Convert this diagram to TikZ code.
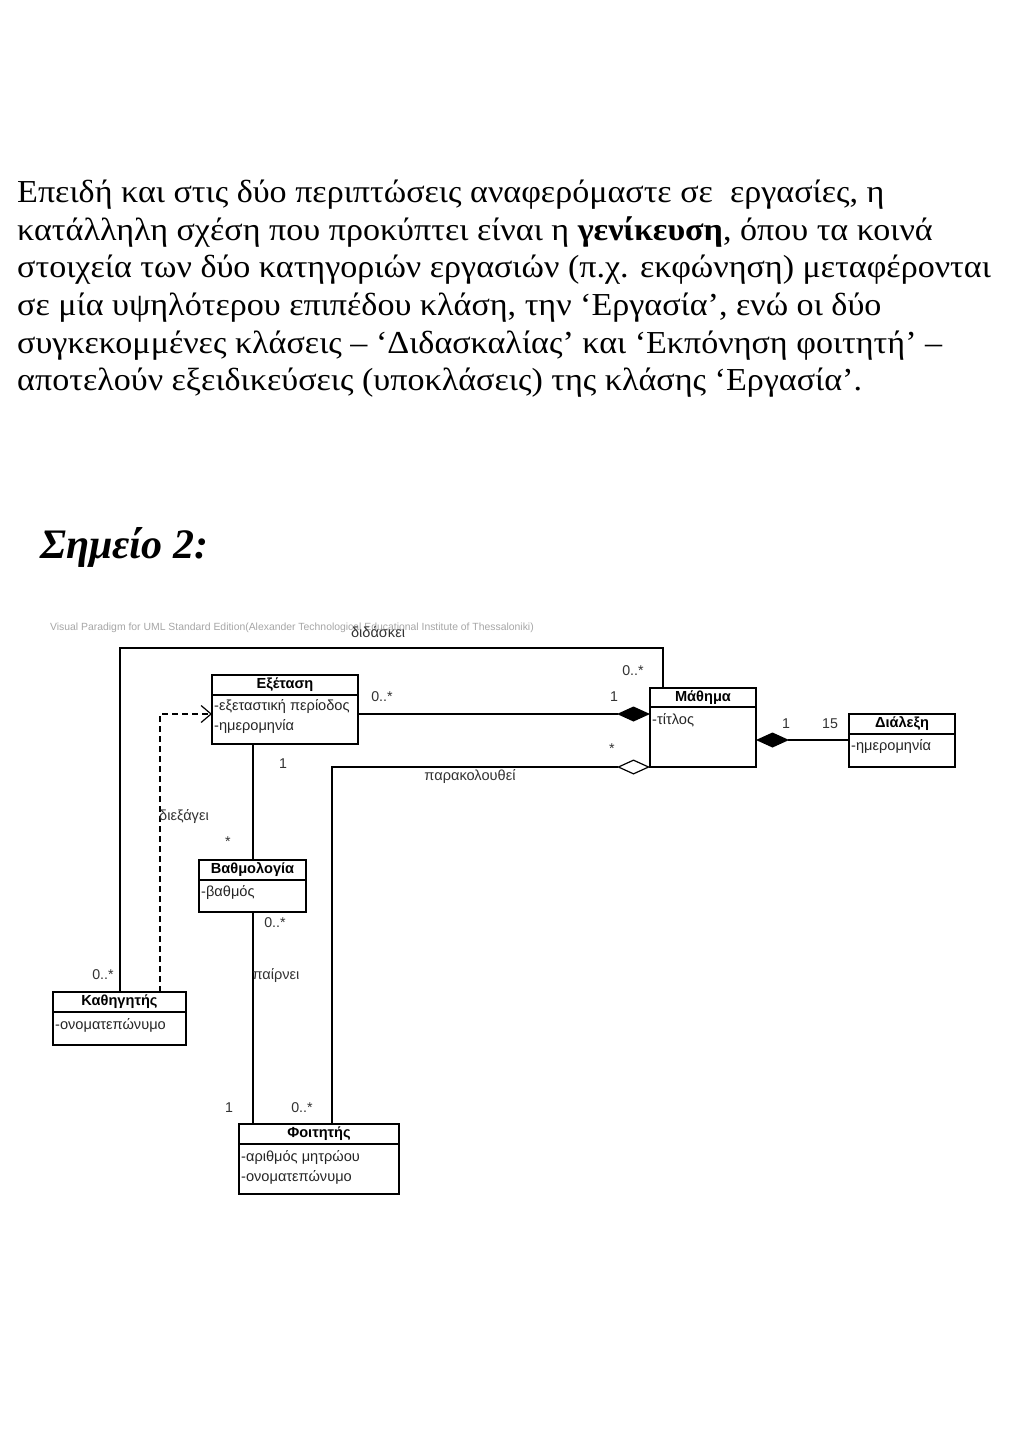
\documentclass[tikz,border=0pt]{standalone}
\usepackage{fontspec}
\setmainfont{Liberation Serif}
\setsansfont{Liberation Sans}
\usetikzlibrary{arrows.meta,calc}
\newcommand{\wideline}[1]{\scalebox{1.065}[1]{#1}}
\tikzset{
  para/.style={anchor=base west, inner sep=0, font=\fontsize{32}{38}\selectfont},
  cls/.style={draw, line width=1.2pt, inner sep=0, outer sep=0, anchor=north west},
  sepline/.style={line width=1.2pt},
  cname/.style={font=\sffamily\bfseries\fontsize{14.6}{14.6}\selectfont, inner sep=0},
  attr/.style={font=\sffamily\fontsize{14.6}{14.6}\selectfont, inner sep=0, anchor=west, text=black!85},
  mult/.style={font=\sffamily\fontsize{14.2}{14.2}\selectfont, inner sep=0, text=black!80},
  lbl/.style={font=\sffamily\fontsize{14.6}{14.6}\selectfont, inner sep=0, text=black!80},
  assoc/.style={line width=1.2pt},
  dep/.style={line width=1.2pt, dash pattern=on 6pt off 4pt, -{Straight Barb[length=10pt,width=17pt,line width=1.2pt]}},
  compend/.style={line width=1.2pt, -{Diamond[length=33pt,width=15pt,fill=black]}},
  compstart/.style={line width=1.2pt, {Diamond[length=33pt,width=15pt,fill=black]}-},
  aggend/.style={line width=1.2pt, -{Diamond[open,length=33pt,width=15pt,line width=1.2pt]}}
}
\begin{document}
\begin{tikzpicture}[x=1pt,y=-1pt]
\useasboundingbox[fill=white] (0,0) rectangle (1024,1448);

% paragraph
\node[para] (p1) at (17,202) {\wideline{Επειδή και στις δύο περιπτώσεις αναφερόμαστε σε\ \ εργασίες, η}};
\node[para] (p2) at (17,240) {\wideline{κατάλληλη σχέση που προκύπτει είναι η \textbf{γενίκευση}, όπου τα κοινά}};
\node[para] (p3) at (17,277) {\wideline{στοιχεία των δύο κατηγοριών εργασιών (π.χ. εκφώνηση) μεταφέρονται}};
\node[para] (p4) at (17,315) {\wideline{σε μία υψηλότερου επιπέδου κλάση, την ‘Εργασία’, ενώ οι δύο}};
\node[para] (p5) at (17,353) {\wideline{συγκεκομμένες κλάσεις – ‘Διδασκαλίας’ και ‘Εκπόνηση φοιτητή’ –}};
\node[para] (p6) at (17,390) {\wideline{αποτελούν εξειδικεύσεις (υποκλάσεις) της κλάσης ‘Εργασία’.}};

\node[anchor=base west, inner sep=0, font=\bfseries\itshape\fontsize{42}{42}\selectfont] (title) at (40,558) {Σημείο 2:};

% watermark
\node[inner sep=0, font=\sffamily\fontsize{10.4}{10.4}\selectfont, text=black!35] (wm) at (292,628) {Visual Paradigm for UML Standard Edition(Alexander Technological Educational Institute of Thessaloniki)};

% classes
\node[cls, minimum width=146, minimum height=69] (exam) at (212,675) {};
\draw[sepline] ([yshift=-20pt]exam.north west) -- ([yshift=-20pt]exam.north east);
\node[cname] (examN) at ($(exam.north)+(0,10)$) {Εξέταση};
\node[attr] (examA1) at ($(exam.north west)+(2,32)$) {-εξεταστική περίοδος};
\node[attr] (examA2) at ($(exam.north west)+(2,52)$) {-ημερομηνία};

\node[cls, minimum width=106, minimum height=79] (course) at (650,688) {};
\draw[sepline] ([yshift=-19pt]course.north west) -- ([yshift=-19pt]course.north east);
\node[cname] (courseN) at ($(course.north)+(0,10)$) {Μάθημα};
\node[attr] (courseA1) at ($(course.north west)+(2,32)$) {-τίτλος};

\node[cls, minimum width=106, minimum height=53] (lecture) at (849,714) {};
\draw[sepline] ([yshift=-20pt]lecture.north west) -- ([yshift=-20pt]lecture.north east);
\node[cname] (lectureN) at ($(lecture.north)+(0,10)$) {Διάλεξη};
\node[attr] (lectureA1) at ($(lecture.north west)+(2,33)$) {-ημερομηνία};

\node[cls, minimum width=107, minimum height=52] (grade) at (199,860) {};
\draw[sepline] ([yshift=-20pt]grade.north west) -- ([yshift=-20pt]grade.north east);
\node[cname] (gradeN) at ($(grade.north)+(0,10)$) {Βαθμολογία};
\node[attr] (gradeA1) at ($(grade.north west)+(2,33)$) {-βαθμός};

\node[cls, minimum width=133, minimum height=53] (prof) at (53,992) {};
\draw[sepline] ([yshift=-20pt]prof.north west) -- ([yshift=-20pt]prof.north east);
\node[cname] (profN) at ($(prof.north)+(0,10)$) {Καθηγητής};
\node[attr] (profA1) at ($(prof.north west)+(2,33)$) {-ονοματεπώνυμο};

\node[cls, minimum width=160, minimum height=70] (student) at (239,1124) {};
\draw[sepline] ([yshift=-20pt]student.north west) -- ([yshift=-20pt]student.north east);
\node[cname] (studentN) at ($(student.north)+(0,10)$) {Φοιτητής};
\node[attr] (studentA1) at ($(student.north west)+(2,33)$) {-αριθμός μητρώου};
\node[attr] (studentA2) at ($(student.north west)+(2,53)$) {-ονοματεπώνυμο};

% routing coordinates
\coordinate (t1) at (120,648);
\coordinate (t2) at (663,648);
\coordinate (d1) at (160,714);
\coordinate (e1) at (0,714);
\coordinate (e2) at (0,740);
\coordinate (v1) at (253,0);
\coordinate (f1) at (332,767);

% connectors
\draw[assoc] (prof.north -| t1) -- (t1) -- (t2) -- (course.north -| t2);
\draw[dep] (prof.north -| d1) -- (d1) -- (exam.west |- d1);
\draw[compend] (exam.east |- e1) -- (course.west |- e1);
\draw[compstart] (course.east |- e2) -- (lecture.west |- e2);
\draw[assoc] (exam.south -| v1) -- (grade.north -| v1);
\draw[assoc] (grade.south -| v1) -- (student.north -| v1);
\draw[aggend] (student.north -| f1) -- (f1) -- (course.south west);

% labels
\node[mult] (m1) at (103,975) {0..*};
\node[mult] (m2) at (633,671) {0..*};
\node[lbl] (l1) at (378,632) {διδάσκει};
\node[lbl] (l2) at (184,817) {διεξάγει};
\node[mult] (m3) at (382,697) {0..*};
\node[mult] (m4) at (614,697) {1};
\node[mult] (m5) at (786,724) {1};
\node[mult] (m6) at (830,724) {15};
\node[mult] (m7) at (283,764) {1};
\node[mult] (m8) at (228,842) {*};
\node[mult] (m9) at (275,923) {0..*};
\node[lbl] (l3) at (276,976) {παίρνει};
\node[mult] (m10) at (229,1108) {1};
\node[mult] (m11) at (302,1108) {0..*};
\node[mult] (m12) at (612,749) {*};
\node[lbl] (l4) at (470,777) {παρακολουθεί};
\end{tikzpicture}
\end{document}
